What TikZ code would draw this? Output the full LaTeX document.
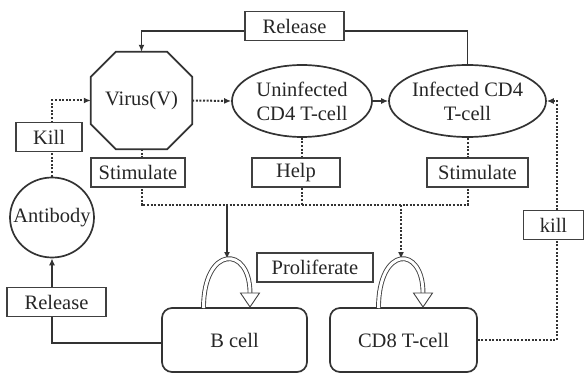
\documentclass[tikz,border=0pt]{standalone}
\usepackage{fontspec}
\setmainfont{Liberation Serif}
\usetikzlibrary{shapes.geometric,arrows.meta,calc}
\begin{document}
\begin{tikzpicture}[x=1pt,y=-1pt,
  every node/.style={font=\fontsize{20.5}{24}\selectfont, text=black!85},
  lbl/.style={draw=black!75, line width=1.1pt, fill=white, inner sep=0pt, minimum height=29pt},
  ell/.style={ellipse, draw=black!80, line width=1.7pt, inner sep=0pt, align=center},
  cellbox/.style={draw=black!80, line width=1.7pt, rounded corners=10pt, inner sep=0pt, minimum height=64pt},
  sarr/.style={draw=black!80, line width=1.4pt, -{Latex[length=7pt,width=6pt]}},
  dline/.style={draw=black!80, line width=2pt, dash pattern=on 2pt off 1.6pt},
  darr/.style={dline, -{Latex[length=7pt,width=6pt]}},
  hollow/.style={draw=black!75, double=white, double distance=3pt, line width=0.9pt},
  headst/.style={draw=black!75, line width=0.9pt, fill=white, line join=miter}
]
\useasboundingbox (0,0) rectangle (585,374);

% main shapes
\node[inner sep=0pt, minimum width=101pt, minimum height=97pt] (V) at (141.5,100.5) {Virus(V)};
\draw[draw=black!80, line width=1.8pt, line join=miter]
  ($(V.north west)+(25,0)$) -- ($(V.north east)+(-25,0)$) -- ($(V.north east)+(0,25)$)
  -- ($(V.south east)+(0,-25)$) -- ($(V.south east)+(-25,0)$) -- ($(V.south west)+(25,0)$)
  -- ($(V.south west)+(0,-25)$) -- ($(V.north west)+(0,25)$) -- cycle;
\node[ell, minimum width=140pt, minimum height=72pt] (U) at (302,101) {Uninfected\\CD4 T-cell};
\node[ell, minimum width=141pt, minimum height=72pt] (I) at (467.5,101) {Infected CD4\\T-cell};
\node[ellipse, draw=black!80, line width=1.7pt, inner sep=0pt, minimum width=84pt, minimum height=80pt] (Ab) at (52,217.5) {};
\node at (Ab.center) {Antibody};
\node[cellbox, minimum width=145pt] (B) at (234.5,340) {B cell};
\node[cellbox, minimum width=147pt] (C8) at (403.5,340) {CD8 T-cell};

% connectors
\draw[sarr] (I.north) -- ++(0,-33) -| (V.north);
\draw[darr] (V.east) -- (U.west);
\draw[sarr] (U.east) -- (I.west);
\coordinate (kr) at (557,101);
\draw[darr] (C8.east) -| (kr) -- (I.east);
\draw[darr] (Ab.north) |- (V.west);
\draw[sarr] ($(B.west)+(0,3)$) -| (Ab.south);

\coordinate (jL) at (141.5,205);
\coordinate (jR) at (467.5,205);
\draw[dline] (V.south) -- (jL) -- (jR) -- (I.south);
\draw[dline] (U.south) -- (U.south |- jL);
\coordinate (jB) at (227,205);
\coordinate (jC) at (401,205);
\coordinate (pB) at (227,259);
\coordinate (pC) at (401,259);
\draw[sarr] (jB) -- (pB);
\draw[darr] (jC) -- (pC);

% proliferation loops
\draw[hollow] (203.5,308) .. controls (203.5,245) and (250,245) .. (250,293);
\draw[headst] (240.5,293) -- (259.5,293) -- (250,307) -- cycle;
\draw[hollow] (378.5,308) .. controls (378.5,245) and (423,245) .. (423,293);
\draw[headst] (413.5,293) -- (432.5,293) -- (423,307) -- cycle;

% labels
\node[lbl, minimum width=99pt] (rel1) at (294.5,26) {Release};
\node[lbl, minimum width=66pt] (kill1) at (49,137) {Kill};
\node[lbl, minimum width=94pt] (st1) at (138,172.5) {Stimulate};
\node[lbl, minimum width=88pt] (help) at (296,172.5) {Help};
\node[lbl, minimum width=101pt] (st2) at (477.5,172.5) {Stimulate};
\node[lbl, minimum width=116pt] (prol) at (315,267.5) {Proliferate};
\node[lbl, minimum width=99pt] (rel2) at (56.5,302) {Release};
\node[lbl, minimum width=60pt] (kill2) at (553.5,225) {kill};
\end{tikzpicture}
\end{document}
